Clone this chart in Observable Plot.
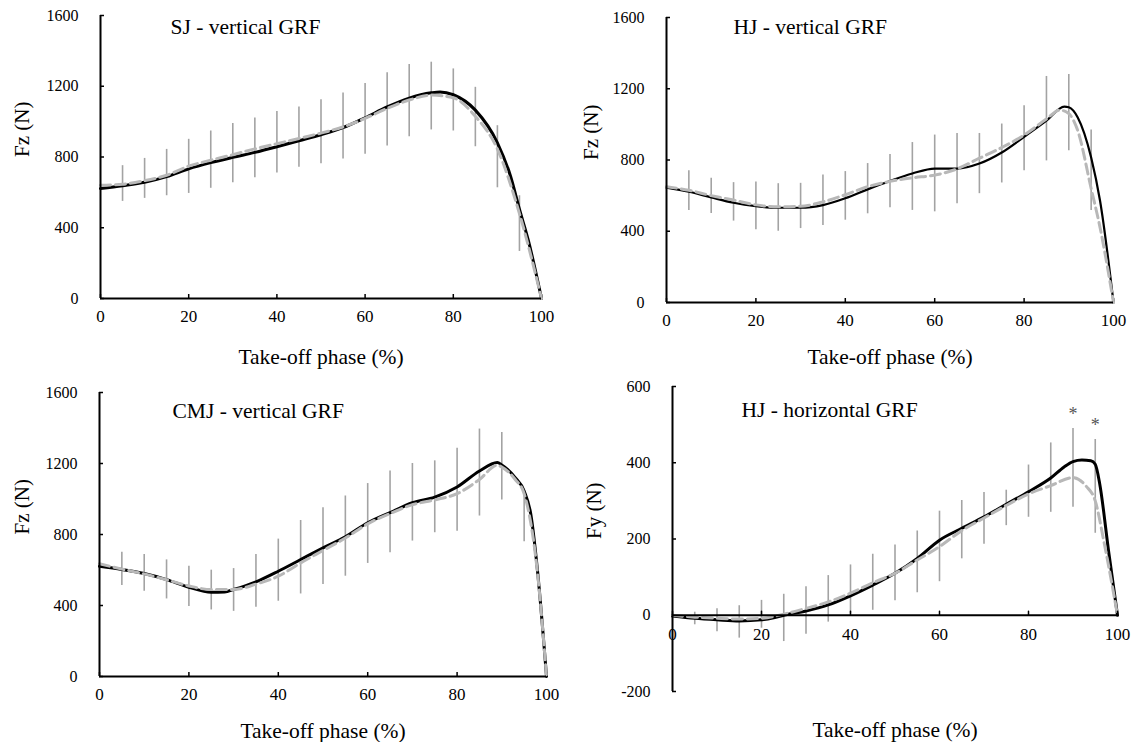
<!DOCTYPE html>
<html>
<head>
<meta charset="utf-8">
<script src="https://cdn.jsdelivr.net/npm/d3@7"></script>
<script src="https://cdn.jsdelivr.net/npm/@observablehq/plot@0.6"></script>
<style>
  html, body { margin: 0; padding: 0; background: #fff; }
  #wrap { position: relative; width: 1142px; height: 742px; background: #fff; overflow: hidden; }
  .panel { position: absolute; width: 571px; height: 371px; }
  .panel svg, .panel svg text { font-family: "Liberation Serif", Tinos, "Times New Roman", Times, "DejaVu Serif", serif !important; }
</style>
</head>
<body>
<div id="wrap">
  <div class="panel" id="p1" style="left:0;top:0"></div>
  <div class="panel" id="p2" style="left:571px;top:0"></div>
  <div class="panel" id="p3" style="left:0;top:371px"></div>
  <div class="panel" id="p4" style="left:571px;top:371px"></div>
</div>
<script>
// ---------- shared ticks ----------
const xTicks = [0, 20, 40, 60, 80, 100];
const fzTicks = [0, 400, 800, 1200, 1600];
const fyTicks = [-200, 0, 200, 400, 600];
const barPhase = [5,10,15,20,25,30,35,40,45,50,55,60,65,70,75,80,85,90,95];

// ---------- SJ vertical GRF ----------
const sjBlackPhase = [0,5,10,15,20,25,30,35,40,45,50,55,60,65,70,75,77,80,85,90,93,95,97,100];
const sjBlackForce = [622,638,657,689,733,768,798,826,858,892,926,966,1022,1083,1133,1163,1168,1152,1065,880,690,505,330,0];
const sjGrayPhase = [0,5,10,15,20,25,30,35,40,45,50,55,60,65,70,75,80,85,90,95,100];
const sjGrayForce = [640,646,666,697,748,782,813,846,875,905,935,970,1018,1075,1122,1150,1135,1030,845,480,0];
const sjLo = [549,566,581,594,623,655,683,709,742,762,789,815,862,915,953,947,858,626,266];
const sjHi = [751,792,843,900,947,990,1021,1057,1083,1123,1162,1215,1277,1323,1336,1298,1194,977,581];

// ---------- HJ vertical GRF ----------
const hjvBlackPhase = [0,5,10,15,20,25,30,35,40,45,50,55,60,65,70,75,80,85,89,90,92,95,97,100];
const hjvBlackForce = [645,622,590,560,541,532,532,547,585,635,682,724,752,752,780,842,930,1021,1100,1096,1039,814,570,0];
const hjvGrayPhase = [0,5,10,15,20,25,30,35,40,45,50,55,60,65,70,75,80,85,88,90,92,95,97,100];
const hjvGrayForce = [650,630,600,575,548,537,540,565,605,650,680,700,715,750,810,870,940,1030,1080,1060,965,640,420,0];
const hjvLo = [517,500,457,408,400,415,432,462,498,532,517,509,555,611,671,739,795,852,517];
const hjvHi = [739,697,673,677,667,669,716,735,780,831,898,940,949,949,1002,1105,1269,1280,968];

// ---------- CMJ vertical GRF ----------
const cmjBlackPhase = [0,5,10,15,20,25,28,30,35,40,45,50,55,60,65,70,75,80,85,89,90,93,95,96.5,98,100];
const cmjBlackForce = [621,603,580,546,503,475,476,490,533,593,659,725,787,866,923,979,1011,1068,1158,1205,1192,1120,1045,913,593,0];
const cmjGrayPhase = [0,5,10,15,20,25,30,35,40,45,50,55,60,65,70,75,80,85,89,90,93,95,98,100];
const cmjGrayForce = [635,605,578,545,510,490,490,520,565,640,710,780,860,918,968,995,1030,1110,1190,1180,1110,1030,580,0];
const cmjLo = [512,480,437,395,375,367,390,424,465,518,565,637,697,763,810,819,904,994,759];
const cmjHi = [700,687,657,621,599,608,687,774,879,951,1017,1087,1158,1200,1215,1286,1394,1375,1055];

// ---------- HJ horizontal GRF ----------
const hjhBlackPhase = [0,5,10,15,20,23,25,30,35,40,45,50,55,60,65,70,75,80,85,88,90,92,94,95,96,98,100];
const hjhBlackForce = [-2,-8,-12,-15,-12,-6,0,11,27,51,79,110,149,197,228,258,291,324,360,389,403,407,405,396,345,168,0];
const hjhGrayPhase = [0,5,10,15,20,25,30,35,40,45,50,55,60,65,70,75,80,85,90,93,95,97,100];
const hjhGrayForce = [0,-5,-8,-10,-8,3,18,35,58,85,110,145,180,222,255,288,318,340,361,338,300,190,0];
const hjhLo = [-25,-43,-60,-34,-69,-50,-18,4,13,38,59,88,148,186,235,257,270,283,215];
const hjhHi = [8,17,25,39,55,75,104,132,160,184,221,273,301,322,328,394,452,490,461];
const sigPhase = [90, 95];

const xTitle = "Take-off phase (%)";
const FONT = "Liberation Serif, Tinos, Times New Roman, DejaVu Serif, serif";

function zip(xs, ys) { return xs.map((x, i) => ({x, y: ys[i]})); }
function bars(lo, hi) { return barPhase.map((x, i) => ({x, lo: lo[i], hi: hi[i]})); }

function panel(cfg) {
  const black = zip(cfg.blackX, cfg.blackY);
  const gray = zip(cfg.grayX, cfg.grayY);
  const eb = bars(cfg.lo, cfg.hi);
  const marks = [
    Plot.axisY({ticks: cfg.yTicks, tickSize: -4, tickPadding: 26, tickFormat: d => String(d), label: null, fontSize: 16, strokeWidth: 1.5}),
    Plot.ruleX(eb, {x: "x", y1: "lo", y2: "hi", stroke: "#a3a3a3", strokeWidth: 1.6}),
    Plot.line(black, {x: "x", y: "y", curve: "monotone-x", stroke: "#000", strokeWidth: cfg.blackWidth || 3}),
    Plot.line(gray, {x: "x", y: "y", curve: "monotone-x", stroke: "#b8b8b8", strokeWidth: 3, strokeDasharray: "10,5"}),
    Plot.ruleX([0], {stroke: "#000", strokeWidth: 2}),
    Plot.ruleY([0], {stroke: "#000", strokeWidth: 2}),
    Plot.text([cfg.title], {frameAnchor: "top-left", textAnchor: "start", lineAnchor: "middle", dx: cfg.titleDx, dy: cfg.titleDy, fontSize: 21.5, fontFamily: FONT}),
    Plot.text([cfg.yLabel], {frameAnchor: "left", rotate: -90, dx: cfg.yLabelDx, fontSize: 21, fontFamily: FONT}),
    Plot.text([xTitle], {frameAnchor: "bottom", lineAnchor: "middle", dy: cfg.xTitleDy, fontSize: 21.5, fontFamily: FONT})
  ];
  if (cfg.xAxisAtZero) {
    marks.push(
      Plot.vector(xTicks, {x: d => d, y: 0, length: 4, rotate: 0, anchor: "start", shape: "spike", r: 0.01, stroke: "#000", strokeWidth: 1.5}),
      Plot.text(xTicks, {x: d => d, y: 0, text: d => String(d), dy: 19, fontSize: 17, fontFamily: FONT})
    );
  } else {
    marks.unshift(Plot.axisX({ticks: xTicks, tickSize: -4, tickPadding: 15, tickFormat: d => String(d), label: null, fontSize: 17, strokeWidth: 1.5}));
  }
  if (cfg.sig) {
    marks.push(Plot.text(cfg.sig, {x: d => d, y: d => cfg.hi[barPhase.indexOf(d)], text: () => "*", dy: -14, fill: "#555", fontSize: 18, fontFamily: FONT}));
  }
  const chart = Plot.plot({
    width: 571, height: 371,
    marginLeft: cfg.m[0], marginRight: cfg.m[1], marginTop: cfg.m[2], marginBottom: cfg.m[3],
    x: {domain: [0, 100], axis: cfg.xAxisAtZero ? null : undefined},
    y: {domain: cfg.yDomain},
    style: {fontFamily: FONT, fontSize: "17px", color: "#000", background: "#fff", overflow: "visible"},
    marks
  });
  document.getElementById(cfg.id).appendChild(chart);
}

panel({id: "p1", m: [100, 30, 15, 73], yDomain: [0, 1600], yTicks: fzTicks,
  blackX: sjBlackPhase, blackY: sjBlackForce, grayX: sjGrayPhase, grayY: sjGrayForce, lo: sjLo, hi: sjHi,
  title: "SJ - vertical GRF", titleDx: 70, titleDy: 12, yLabel: "Fz (N)", yLabelDx: -78, xTitleDy: 59});

panel({id: "p2", m: [95, 29, 17, 69], yDomain: [0, 1600], yTicks: fzTicks, blackWidth: 2.2,
  blackX: hjvBlackPhase, blackY: hjvBlackForce, grayX: hjvGrayPhase, grayY: hjvGrayForce, lo: hjvLo, hi: hjvHi,
  title: "HJ - vertical GRF", titleDx: 67, titleDy: 10, yLabel: "Fz (N)", yLabelDx: -75, xTitleDy: 55});

panel({id: "p3", m: [99, 25, 21, 66], yDomain: [0, 1600], yTicks: fzTicks,
  blackX: cmjBlackPhase, blackY: cmjBlackForce, grayX: cmjGrayPhase, grayY: cmjGrayForce, lo: cmjLo, hi: cmjHi,
  title: "CMJ - vertical GRF", titleDx: 73, titleDy: 19, yLabel: "Fz (N)", yLabelDx: -77, xTitleDy: 55});

panel({id: "p4", m: [101, 25, 15, 51], yDomain: [-200, 600], yTicks: fyTicks, xAxisAtZero: true, sig: sigPhase,
  blackX: hjhBlackPhase, blackY: hjhBlackForce, grayX: hjhGrayPhase, grayY: hjhGrayForce, lo: hjhLo, hi: hjhHi,
  title: "HJ - horizontal GRF", titleDx: 69, titleDy: 24, yLabel: "Fy (N)", yLabelDx: -78, xTitleDy: 39});
</script>
</body>
</html>
